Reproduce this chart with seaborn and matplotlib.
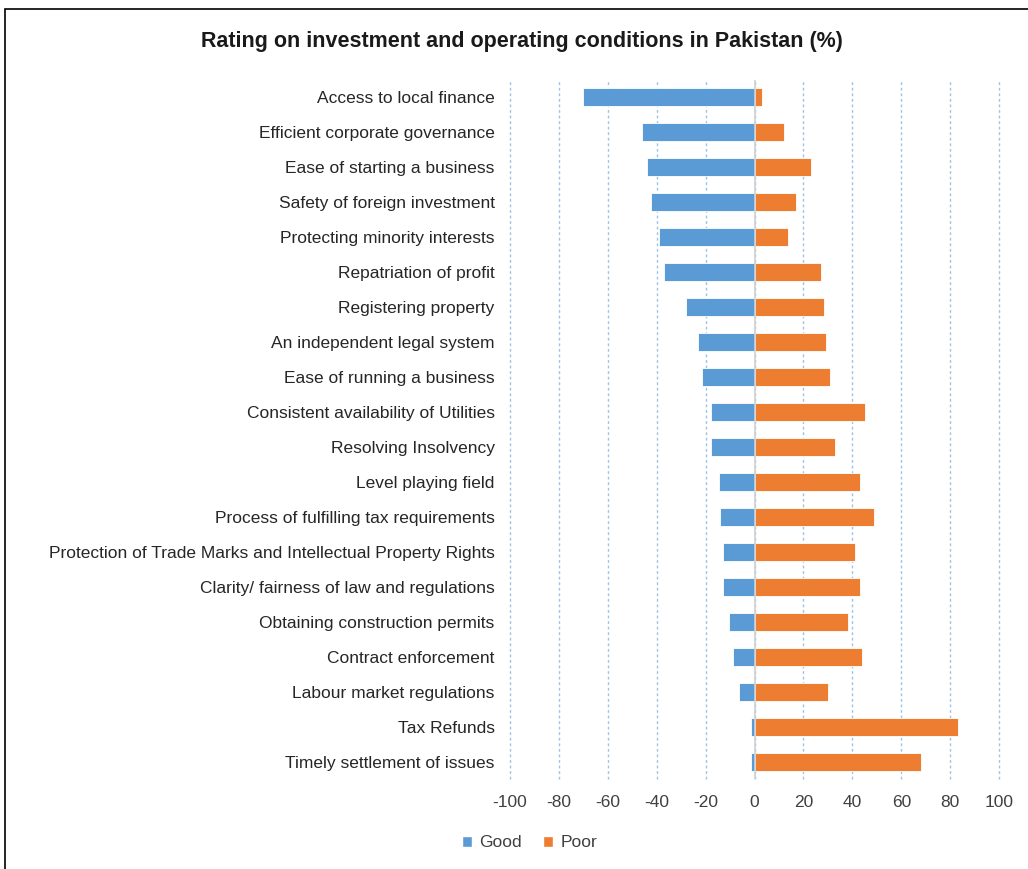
import matplotlib
matplotlib.use("Agg")
import matplotlib.pyplot as plt
import seaborn as sns
import pandas as pd
from matplotlib.patches import Rectangle, Patch

categories = [
    "Access to local finance",
    "Efficient corporate governance",
    "Ease of starting a business",
    "Safety of foreign investment",
    "Protecting minority interests",
    "Repatriation of profit",
    "Registering property",
    "An independent legal system",
    "Ease of running a business",
    "Consistent availability of Utilities",
    "Resolving Insolvency",
    "Level playing field",
    "Process of fulfilling tax requirements",
    "Protection of Trade Marks and Intellectual Property Rights",
    "Clarity/ fairness of law and regulations",
    "Obtaining construction permits",
    "Contract enforcement",
    "Labour market regulations",
    "Tax Refunds",
    "Timely settlement of issues",
]
good = [-70, -46, -44, -42.5, -39, -37, -28, -23, -21.5, -18, -18, -14.5, -14, -13, -13, -10.5, -9, -6.5, -1.5, -1.5]
poor = [3, 12, 23, 17, 13.5, 27, 28.5, 29, 31, 45, 33, 43, 49, 41, 43, 38, 44, 30, 83, 68]
ticks = [-100, -80, -60, -40, -20, 0, 20, 40, 60, 80, 100]

colors = {"Good": "#5B9BD5", "Poor": "#ED7D31"}

df = pd.concat([
    pd.DataFrame({"Factor": categories, "Rating": good, "Series": "Good"}),
    pd.DataFrame({"Factor": categories, "Rating": poor, "Series": "Poor"}),
])

sns.set_style("white")
plt.rcParams["font.family"] = ["Liberation Sans", "DejaVu Sans"]

fig = plt.figure(figsize=(10.28, 8.69), dpi=100)
ax = fig.add_axes([0.496, 0.103, 0.476, 0.8055])

sns.barplot(data=df, x="Rating", y="Factor", hue="Series", orient="h",
            dodge=False, palette=colors, saturation=1, width=0.5, ax=ax,
            legend=False, edgecolor="white", linewidth=0.6)

ax.set_xlim(-100, 100)
ax.set_xticks(ticks)
ax.set_xticklabels([str(t) for t in ticks], fontsize=12.5, color="#404040")
ax.tick_params(axis="y", labelsize=12.5, labelcolor="#262626", length=0, pad=11)
ax.tick_params(axis="x", length=0, pad=11)
ax.set_xlabel("")
ax.set_ylabel("")
for s in ax.spines.values():
    s.set_visible(False)

ax.set_axisbelow(True)
ax.xaxis.grid(True, color="#9DC3E6", linestyle=(0, (2, 2)), linewidth=1)
for gl in ax.get_xgridlines():
    gl.set_clip_on(False)
ax.axvline(0, color="#D0D0D0", linewidth=1.2, zorder=1.5)

fig.text(0.508, 0.9517, "Rating on investment and operating conditions in Pakistan (%)",
         ha="center", va="center", fontsize=15.5, fontweight="bold", color="#1a1a1a")

handles = [Patch(facecolor=colors[k], label=k) for k in ["Good", "Poor"]]
fig.legend(handles=handles, loc="center", bbox_to_anchor=(0.515, 0.030), ncol=2,
           frameon=False, fontsize=12.5, handlelength=0.6, handleheight=0.6,
           handletextpad=0.4, columnspacing=1.2, labelcolor="#404040")

fig.add_artist(Rectangle((0.005, -0.1), 1.1, 1.0896,
                         transform=fig.transFigure, fill=False,
                         edgecolor="black", linewidth=1.2))

fig.savefig("out.png", dpi=100)
